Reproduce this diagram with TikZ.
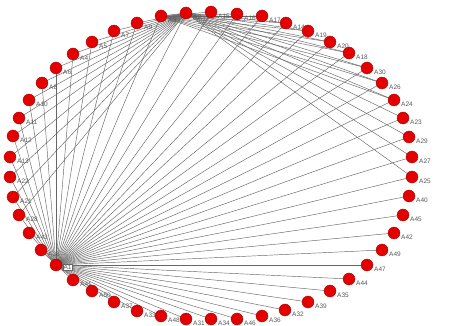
\documentclass[tikz,border=0pt]{standalone}
\usepackage{fontspec}
\setmainfont{Liberation Sans}
\begin{document}
\begin{tikzpicture}[x=1pt,y=-1pt,
  vert/.style={circle,fill=red!90!black,draw=red!60!black,line width=0.3pt,minimum size=12pt,inner sep=0pt},
  lab/.style={font=\fontsize{6.5}{6.5}\selectfont,text=black!65,anchor=west,inner sep=0.5pt},
  hublab/.style={lab,draw=black!60,fill=white,line width=0.3pt,inner sep=1pt},
  edge/.style={draw=black!60,line width=0.45pt}]
\useasboundingbox (0,0) rectangle (456,326);
\fill[white] (0,0) rectangle (456,326);
\foreach \n/\x/\y in {
  A1/56/265, A2/186/13, A3/161/16, A9/137/23, A7/114/31, A5/92/42, A4/73/54,
  A6/56/68, A8/42/83, A10/29/100, A11/19/118, A12/13/136, A13/10/157,
  A22/10/177, A21/13/197, A28/19/215, A43/29/233, A38/41/250, A41/73/280,
  A50/92/291, A37/114/302, A33/137/311, A48/161/316, A31/186/319, A34/211/319,
  A46/237/319, A36/262/316, A32/285/310, A39/308/302, A35/330/291, A44/349/279,
  A47/367/265, A49/382/250, A42/394/233, A45/403/215, A40/409/196, A25/412/177,
  A27/412/157, A29/409/137, A23/403/118, A24/394/100, A26/382/83, A30/367/68,
  A18/349/53, A20/330/42, A19/308/31, A14/286/23, A17/262/16, A16/237/14, A15/211/12}
  \coordinate (\n) at (\x,\y);
% edges from hub A1
\foreach \t in {A2,A3,A9,A7,A5,A4,A6,A8,A10,A11,A12,A13,A22,A21,A28,A43,A38,A41,
  A50,A37,A33,A48,A31,A34,A46,A36,A32,A39,A35,A44,A47,A49,A42,A45,A40,A25,
  A27,A29,A23,A24,A26,A30,A18,A20,A19,A14,A17,A16,A15}
  \draw[edge] (A1) -- (\t);
% edges from hub A2
\foreach \t in {A14,A19,A20,A18,A30,A26,A24,A23,A29,A27,A25,
  A3,A9,A7,A5,A4,A6,A8,A10,A11,A12,A13,A22,A21,A28}
  \draw[edge] (A2) -- (\t);
% edges from A3
\foreach \t in {A15,A16,A17,A14,A19,A20,A18,A30,A26,A24}
  \draw[edge] (A3) -- (\t);
% vertices and labels
\foreach \n in {A2,A3,A9,A7,A5,A4,A6,A8,A10,A11,A12,A13,A22,A21,A28,A43,A38,A41,
  A50,A37,A33,A48,A31,A34,A46,A36,A32,A39,A35,A44,A47,A49,A42,A45,A40,A25,
  A27,A29,A23,A24,A26,A30,A18,A20,A19,A14,A17,A16,A15}{
  \node[vert] (v\n) at (\n) {};
  \node[lab] (l\n) at ([xshift=6.5pt,yshift=-4pt]\n) {\n};
}
\node[vert] (vA1) at (A1) {};
\node[hublab] (lA1) at ([xshift=6.5pt,yshift=-2pt]A1) {A1};
\end{tikzpicture}
\end{document}
